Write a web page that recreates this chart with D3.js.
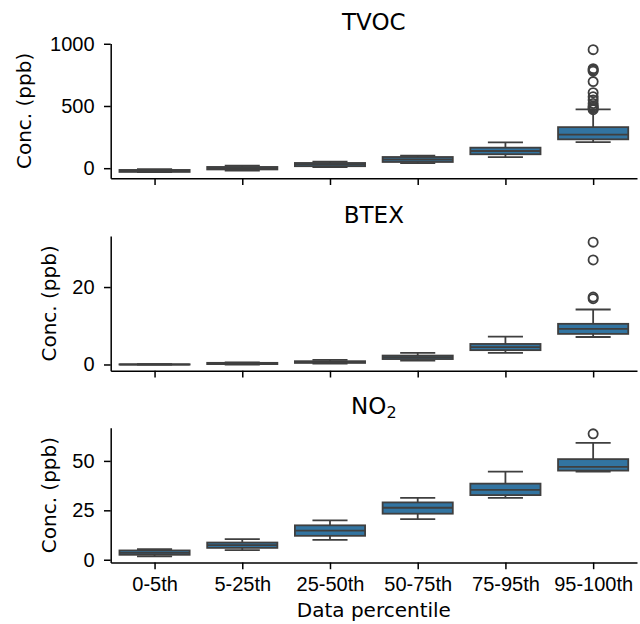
<!DOCTYPE html>
<html>
<head>
<meta charset="utf-8">
<script src="https://cdn.jsdelivr.net/npm/d3@7"></script>
<style>
  body { margin: 0; background: #fff; }
  svg { display: block; font-family: "DejaVu Sans", sans-serif; }
</style>
</head>
<body>
<div id="chart"></div>
<script>
// Categories on the shared x-axis
const categories = ["0-5th", "5-25th", "25-50th", "50-75th", "75-95th", "95-100th"];

// Box stats per category: [whisker low, q1, median, q3, whisker high]
const tvocBoxes = [
  [-32, -30, -22, -14, -8],
  [-20, -10, 0, 10, 20],
  [8, 16, 30, 42, 52],
  [40, 50, 70, 90, 100],
  [89, 112, 138, 165, 208],
  [210, 232, 270, 330, 472],
];
const tvocOutliers = [[], [], [], [], [], [953, 800, 790, 780, 696, 607, 574, 548, 520, 500, 490, 480, 470]];
const tvocTicks = [0, 500, 1000];

const btexBoxes = [
  [-0.05, -0.02, 0.0, 0.04, 0.08],
  [0.0, 0.1, 0.25, 0.42, 0.55],
  [0.2, 0.4, 0.6, 0.85, 1.2],
  [1.0, 1.4, 1.9, 2.3, 3.0],
  [3.0, 3.7, 4.5, 5.3, 7.2],
  [7.1, 7.9, 9.2, 10.5, 14.2],
];
const btexOutliers = [[], [], [], [], [], [31.6, 27.0, 17.4, 17.0]];
const btexTicks = [0, 20];

const no2Boxes = [
  [1.7, 2.5, 3.5, 4.7, 5.4],
  [4.9, 6.0, 7.4, 8.7, 10.4],
  [10.0, 12.1, 14.7, 17.4, 19.9],
  [20.5, 23.3, 26.3, 29.0, 31.3],
  [31.3, 32.7, 35.3, 38.5, 44.6],
  [44.6, 45.1, 47.0, 50.9, 59.1],
];
const no2Outliers = [[], [], [], [], [], [63.7]];
const no2Ticks = [0, 25, 50];

const width = 640;
const height = 624;
const marginLeft = 110.7;
const marginRight = 3;
const panelHeight = 134.8;

const boxColor = "#3274a1";
const lineColor = "#3f3f3f";
const tickFont = 20;
const labelFont = 20;

const svg = d3
  .select("#chart")
  .append("svg")
  .attr("width", width)
  .attr("height", height)
  .attr("viewBox", [0, 0, width, height]);

const x = d3
  .scalePoint()
  .domain(categories)
  .range([marginLeft, width - marginRight])
  .padding(0.5);
const boxWidth = x.step() * 0.8;

function BoxPanel(
  svg,
  {
    title,
    sub, // optional subscript after the title
    boxes,
    outliers,
    ticks,
    top, // top of the axes area, in pixels
    labelX, // baseline of the rotated y label
    showXLabels = false,
  }
) {
  const bottom = top + panelHeight;

  // matplotlib style limits: data extent padded by 5%
  const all = boxes.flat().concat(outliers.flat());
  const [lo, hi] = d3.extent(all);
  const pad = (hi - lo) * 0.05;
  const y = d3.scaleLinear([lo - pad, hi + pad], [bottom, top]);

  const g = svg.append("g");

  const box = g
    .append("g")
    .selectAll("g")
    .data(boxes)
    .join("g")
    .attr("transform", (d, i) => `translate(${x(categories[i])},0)`)
    .attr("stroke", lineColor)
    .attr("stroke-width", 1.8);

  // whiskers and caps
  box
    .append("line")
    .attr("y1", (d) => y(d[0]))
    .attr("y2", (d) => y(d[1]));
  box
    .append("line")
    .attr("y1", (d) => y(d[3]))
    .attr("y2", (d) => y(d[4]));
  box
    .selectAll(".cap")
    .data((d) => [d[0], d[4]])
    .join("line")
    .attr("class", "cap")
    .attr("x1", -boxWidth / 4)
    .attr("x2", boxWidth / 4)
    .attr("y1", (v) => y(v))
    .attr("y2", (v) => y(v));

  box
    .append("rect")
    .attr("x", -boxWidth / 2)
    .attr("width", boxWidth)
    .attr("y", (d) => y(d[3]))
    .attr("height", (d) => y(d[1]) - y(d[3]))
    .attr("fill", boxColor);

  // median
  box
    .append("line")
    .attr("x1", -boxWidth / 2)
    .attr("x2", boxWidth / 2)
    .attr("y1", (d) => y(d[2]))
    .attr("y2", (d) => y(d[2]));

  // outliers
  box
    .selectAll("circle")
    .data((d, i) => outliers[i])
    .join("circle")
    .attr("cy", (v) => y(v))
    .attr("r", 4.6)
    .attr("fill", "none");

  // axes
  svg
    .append("g")
    .attr("transform", `translate(${marginLeft},0)`)
    .call(
      d3
        .axisLeft(y)
        .tickValues(ticks)
        .tickFormat(d3.format("d"))
        .tickSize(6.7)
        .tickPadding(9.5)
        .tickSizeOuter(0)
    )
    .call((a) => a.selectAll("text").attr("font-size", tickFont).attr("fill", "#000").attr("font-family", null))
    .call((a) => a.selectAll("line,path").attr("stroke", "#000").attr("stroke-width", 1.5));

  svg
    .append("g")
    .attr("transform", `translate(0,${bottom})`)
    .call(
      d3
        .axisBottom(x)
        .tickSize(6.7)
        .tickPadding(8)
        .tickSizeOuter(0)
        .tickFormat(showXLabels ? (d) => d : () => "")
    )
    .call((a) => a.selectAll("text").attr("font-size", tickFont).attr("fill", "#000").attr("font-family", null))
    .call((a) => a.selectAll("line,path").attr("stroke", "#000").attr("stroke-width", 1.5));

  // title
  const t = svg
    .append("text")
    .attr("x", (marginLeft + width - marginRight) / 2)
    .attr("y", top - 13.5)
    .attr("text-anchor", "middle")
    .attr("font-size", 23)
    .text(title);
  if (sub) t.append("tspan").attr("font-size", 16).attr("dy", 4).text(sub);

  // y label
  svg
    .append("text")
    .attr("transform", `translate(${labelX},${(top + bottom) / 2}) rotate(-90)`)
    .attr("text-anchor", "middle")
    .attr("font-size", labelFont)
    .text("Conc. (ppb)");
}

BoxPanel(svg, { title: "TVOC", boxes: tvocBoxes, outliers: tvocOutliers, ticks: tvocTicks, top: 43.5, labelX: 30.7 });
BoxPanel(svg, { title: "BTEX", boxes: btexBoxes, outliers: btexOutliers, ticks: btexTicks, top: 236, labelX: 55.5 });
BoxPanel(svg, {
  title: "NO",
  sub: "2",
  boxes: no2Boxes,
  outliers: no2Outliers,
  ticks: no2Ticks,
  top: 427.7,
  labelX: 55.5,
  showXLabels: true,
});

svg
  .append("text")
  .attr("x", (marginLeft + width - marginRight) / 2)
  .attr("y", 617)
  .attr("text-anchor", "middle")
  .attr("font-size", labelFont)
  .text("Data percentile");
</script>
</body>
</html>
